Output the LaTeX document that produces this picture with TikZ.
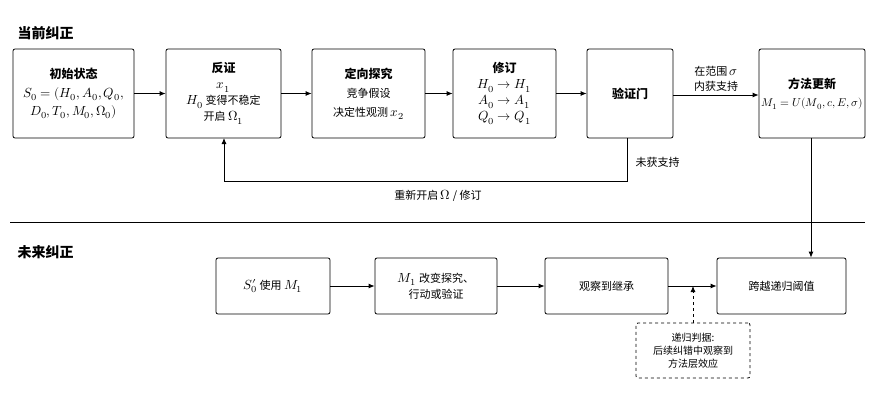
\documentclass[tikz,border=0pt]{standalone}
\usepackage{fontspec}
\setmainfont{Noto Sans CJK SC}
\usepackage{unicode-math}
\setmathfont{Latin Modern Math}[Scale=1.2]
\usetikzlibrary{arrows.meta}
\begin{document}
\begin{tikzpicture}[x=1pt,y=-1pt,
 box/.style={draw,rounded corners=2pt,line width=0.8pt,align=center,font=\fontsize{11}{16}\selectfont,inner sep=0pt},
 arr/.style={-{Latex[length=6pt,width=5pt]},line width=0.8pt},
 sec/.style={font=\fontsize{14}{16}\selectfont\bfseries,anchor=west},
 lbl/.style={font=\fontsize{11}{15}\selectfont,align=center}]
\useasboundingbox (0,0) rectangle (878,400);
\node[sec] (t1) at (14,33) {当前纠正};
\node[sec] (t2) at (14,252) {未来纠正};
\draw[line width=0.6pt] (10,222) coordinate (d1) -- (865,222) coordinate (d2);
% top row
\node[box,minimum width=121pt,minimum height=89pt] (b1) at (73.5,93.5) {{\fontsize{12}{15}\selectfont\bfseries 初始状态}\\[3pt]$S_0=(H_0,A_0,Q_0,$\\[2pt]$D_0,T_0,M_0,\Omega_0)$};
\node[box,minimum width=115pt,minimum height=89pt] (b2) at (223.5,93.5) {{\fontsize{12}{15}\selectfont\bfseries 反证}\\$x_1$\\$H_0$ 变得不稳定\\开启 $\Omega_1$};
\node[box,minimum width=113pt,minimum height=89pt] (b3) at (368.5,93.5) {{\fontsize{12}{15}\selectfont\bfseries 定向探究}\\[3pt]竞争假设\\[3pt]决定性观测 $x_2$};
\node[box,minimum width=103pt,minimum height=89pt] (b4) at (504.5,93.5) {{\fontsize{12}{15}\selectfont\bfseries 修订}\\$H_0\rightarrow H_1$\\$A_0\rightarrow A_1$\\$Q_0\rightarrow Q_1$};
\node[box,minimum width=86pt,minimum height=89pt] (b5) at (630,93.5) {{\fontsize{12}{15}\selectfont\bfseries 验证门}};
\node[box,minimum width=106pt,minimum height=89pt] (b6) at (812,93.5) {{\fontsize{12}{15}\selectfont\bfseries 方法更新}\\[2pt]{\fontsize{9.5}{12}\selectfont$M_1=U(M_0,c,E,\sigma)$}};
\draw[arr] (b1) -- (b2);
\draw[arr] (b2) -- (b3);
\draw[arr] (b3) -- (b4);
\draw[arr] (b4) -- (b5);
\draw[arr] (b5.east |- 0,95) -- node[lbl,above] (l1) {在范围 $\sigma$\\内获支持} (b6.west |- 0,95);
\coordinate (f1) at (627,181);
\coordinate (f2) at (224,181);
\draw[arr] (627,138) -- (f1) -- (f2) -- (224,138);
\node[lbl,anchor=west] (l2) at (632,162) {未获支持};
\node[lbl] (l3) at (438,196) {重新开启 $\Omega$ / 修订};
% bottom row
\node[box,minimum width=114pt,minimum height=56pt] (c1) at (273,286) {$S_0^{\prime}$ 使用 $M_1$};
\node[box,minimum width=122pt,minimum height=56pt] (c2) at (436,286) {$M_1$ 改变探究、\\行动或验证};
\node[box,minimum width=123pt,minimum height=56pt] (c3) at (606.5,286) {观察到继承};
\node[box,minimum width=129pt,minimum height=56pt] (c4) at (781.5,286) {跨越递归阈值};
\draw[arr] (c1) -- (c2);
\draw[arr] (c2) -- (c3);
\draw[arr] (c3) -- coordinate[pos=0.5] (m) (c4);
\draw[arr] (b6.south -| 811,0) -- (c4.north -| 811,0);
\node[box,dashed,minimum width=114pt,minimum height=55pt,font=\fontsize{10}{13}\selectfont] (e) at (693,350.5) {递归判据:\\后续纠错中观察到\\方法层效应};
\draw[arr,dashed] (e.north) -- (e.north |- m);
\end{tikzpicture}
\end{document}
